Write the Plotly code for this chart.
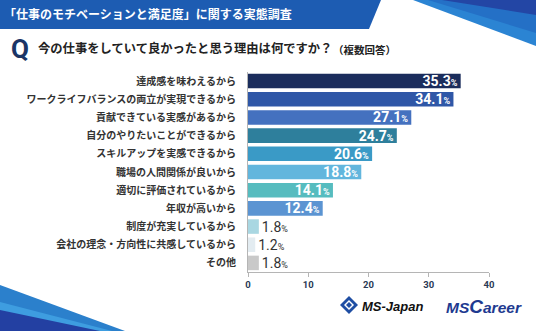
import plotly.graph_objects as go

# Survey data: reasons respondents were glad about their current job (multiple answers, %)
categories = [
    "達成感を味わえるから",
    "ワークライフバランスの両立が実現できるから",
    "貢献できている実感があるから",
    "自分のやりたいことができるから",
    "スキルアップを実感できるから",
    "職場の人間関係が良いから",
    "適切に評価されているから",
    "年収が高いから",
    "制度が充実しているから",
    "会社の理念・方向性に共感しているから",
    "その他",
]
values = [35.3, 34.1, 27.1, 24.7, 20.6, 18.8, 14.1, 12.4, 1.8, 1.2, 1.8]
bar_colors = [
    "#1b2d5c", "#2f57a7", "#4471bf", "#2e7f9c", "#3a9ac6", "#62b6dd",
    "#56bcbf", "#5b94d2", "#a9d7e2", "#e3ecf1", "#c9c9c9",
]
x_ticks = [0, 10, 20, 30, 40]

title_text = "「仕事のモチベーションと満足度」に関する実態調査"
question_text = "今の仕事をしていて良かったと思う理由は何ですか？"
question_note = "（複数回答）"

W, H = 536, 331
M = dict(l=248, r=47, t=72, b=59)

JP = "Noto Sans CJK JP"
NUM = "Roboto"


def px(x, y):
    """Convert canvas pixel coordinates to paper coordinates."""
    pw = W - M["l"] - M["r"]
    ph = H - M["t"] - M["b"]
    return (x - M["l"]) / pw, (H - M["b"] - y) / ph


def poly(points, color):
    pts = [px(x, y) for x, y in points]
    path = "M " + " L ".join(f"{a:.5f},{b:.5f}" for a, b in pts) + " Z"
    return dict(type="path", xref="paper", yref="paper", path=path,
                fillcolor=color, line=dict(width=0), layer="below")


# value labels: white inside long bars, dark outside short ones
inside = [v >= 5 for v in values]
labels = [
    f"<b>{v:.1f}</b><span style='font-size:9px'><b>%</b></span>" if ins
    else f"{v:.1f}<span style='font-size:9px'>%</span>"
    for v, ins in zip(values, inside)
]

fig = go.Figure(
    go.Bar(
        x=values,
        y=categories,
        orientation="h",
        marker=dict(color=bar_colors, line=dict(width=0)),
        width=0.8,
        text=labels,
        textposition=["inside" if ins else "outside" for ins in inside],
        insidetextanchor="end",
        textfont=dict(family=NUM, size=14,
                      color=["white" if ins else "#333333" for ins in inside]),
        constraintext="none",
        cliponaxis=False,
        hoverinfo="skip",
    )
)

shapes = [
    # header band with slanted right edge
    poly([(0, 0), (381, 0), (369, 29), (0, 29)], "#1d5cb2"),
    # top-right ribbons
    poly([(413, 0), (536, 0), (536, 46)], "#2b84d3"),
    poly([(428, 0), (536, 0), (536, 33)], "#2470c6"),
    poly([(442, 0), (536, 0), (536, 15)], "#2346a5"),
    # bottom-left ribbons
    poly([(0, 285), (125, 331), (0, 331)], "#2b80cc"),
    poly([(0, 302), (112, 331), (0, 331)], "#3e9de0"),
    poly([(0, 310), (100, 331), (0, 331)], "#2340a2"),
    # logo mark
    poly([(349, 296), (358, 305), (349, 314), (340, 305)], "#1f4ea3"),
    poly([(349, 300), (354, 305), (349, 310), (344, 305)], "#ffffff"),
    poly([(349, 302), (352, 305), (349, 308), (346, 305)], "#1f4ea3"),
]

annotations = []


def note(x, y, text, size, color, family=JP, anchor="left"):
    ax, ay = px(x, y)
    annotations.append(dict(
        xref="paper", yref="paper", x=ax, y=ay, text=text, showarrow=False,
        xanchor=anchor, yanchor="middle",
        font=dict(family=family, size=size, color=color),
    ))


note(2, 14, f"<b>{title_text}</b>", 12, "white")
note(9, 49, "<b>Q</b>", 26, "#1b3566", family="Roboto")
note(36, 48, f"<b>{question_text}</b>", 12.3, "#222222")
note(331, 49, f"<b>{question_note}</b>", 10.5, "#222222")
note(360, 306, "<b><i>MS-Japan</i></b>", 13, "#111111", family="Liberation Sans")
note(444, 306, "<b><i>MS<span style='font-size:19px'>C</span>areer</i></b>", 15.5,
     "#1e3a90", family="Liberation Sans")

fig.update_layout(
    width=W, height=H,
    margin=M,
    paper_bgcolor="white",
    plot_bgcolor="white",
    showlegend=False,
    bargap=0.2,
    shapes=shapes,
    annotations=annotations,
    xaxis=dict(
        range=[0, 40],
        tickvals=x_ticks,
        ticktext=[f"<b>{t}</b>" for t in x_ticks],
        ticks="outside", ticklen=4, tickcolor="#b5b5b5",
        showline=True, linecolor="#b5b5b5", linewidth=1,
        showgrid=False, zeroline=False,
        tickfont=dict(family=NUM, size=9.5, color="#2b3a55"),
        fixedrange=True,
    ),
    yaxis=dict(
        autorange="reversed",
        showline=True, linecolor="#b5b5b5", linewidth=1,
        showgrid=False, ticks="",
        ticklabelstandoff=9,
        tickfont=dict(family=JP, size=10, color="#333333", weight="bold"),
        fixedrange=True,
    ),
)

fig.write_html("out.html")
